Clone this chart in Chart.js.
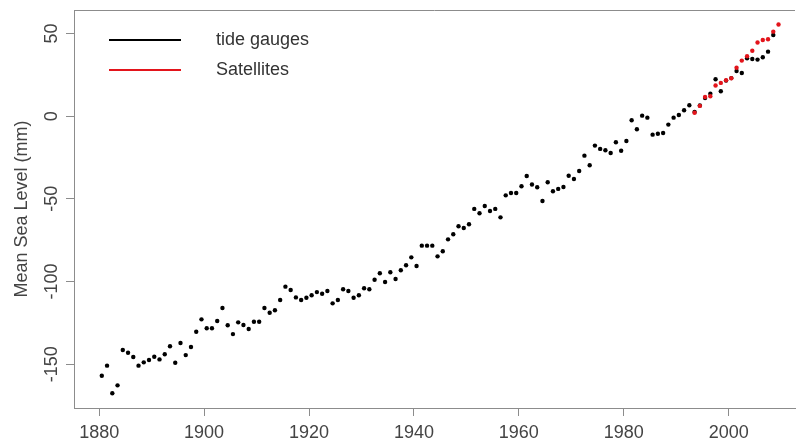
<!DOCTYPE html>
<html>
<head>
<meta charset="utf-8">
<script src="https://cdn.jsdelivr.net/npm/chart.js@4.4.0/dist/chart.umd.min.js"></script>
<style>
  html, body { margin: 0; padding: 0; background: #fff; }
  #chart { display: block; }
</style>
</head>
<body>
<canvas id="chart" width="799" height="439"></canvas>
<script>
// annual mean sea level (mm), one value per year, plotted at mid-year
const tideFirstYear = 1880;
const tideGauges = [
  -157.0, -150.9, -167.6, -162.8, -141.4, -143.1, -145.7, -150.9, -148.9, -147.5, // 1880s
  -145.5, -147.1, -144.0, -139.2, -149.1, -137.2, -144.5, -139.6, -130.4, -122.9, // 1890s
  -128.3, -128.3, -123.9, -116.0, -126.5, -131.8, -124.7, -126.3, -128.7, -124.3, // 1900s
  -124.3, -116.0, -118.9, -117.4, -111.2, -103.1, -105.1, -109.6, -111.2, -109.8, // 1910s
  -108.3, -106.4, -107.4, -105.7, -113.2, -111.2, -104.7, -105.7, -109.8, -108.3, // 1920s
  -104.1, -104.7, -98.9, -95.0, -100.3, -94.4, -98.5, -93.2, -90.2, -85.4,        // 1930s
  -90.6, -78.3, -78.3, -78.3, -84.8, -81.7, -74.5, -71.4, -66.6, -67.6,           // 1940s
  -65.4, -56.1, -58.7, -54.3, -57.4, -56.1, -61.2, -47.9, -46.5, -46.5,           // 1950s
  -42.4, -36.2, -41.3, -43.0, -51.3, -40.0, -45.4, -44.0, -42.8, -36.0,           // 1960s
  -38.0, -33.2, -23.9, -29.7, -17.8, -19.8, -20.6, -22.3, -15.8, -20.9,           // 1970s
  -15.0, -2.5, -7.9, 0.3, -0.9, -11.2, -10.6, -10.2, -5.1, -0.9,                  // 1980s
  0.7, 3.6, 6.6, 2.5, 6.5, 11.0, 13.6, 22.3, 15.1, 21.5,                          // 1990s
  23.0, 27.3, 26.1, 35.0, 34.6, 34.2, 35.6, 39.0, 49.1                            // 2000-2008
];

const satFirstYear = 1993;
const satellites = [
  2.1, 6.2, 11.6, 12.0, 18.5, 20.1, 21.7, 22.9, 29.3,
  33.6, 36.2, 39.6, 44.5, 46.1, 46.5, 51.1, 55.4
];

const xTicks = [1880, 1900, 1920, 1940, 1960, 1980, 2000];
const yTicks = [-150, -100, -50, 0, 50];

const toPoints = (first, values) => values.map((v, i) => ({ x: first + i + 0.5, y: v }));

const axisColor = '#8c8c8c';
const textColor = '#444';

Chart.defaults.font.family = "'Liberation Sans', Arial, sans-serif";
Chart.defaults.font.size = 18;
Chart.defaults.color = textColor;

// top edge of the R plot box (right edge is cut off in the original)
const boxPlugin = {
  id: 'box',
  beforeDatasetsDraw(chart) {
    const { ctx, chartArea: a } = chart;
    ctx.save();
    ctx.strokeStyle = axisColor;
    ctx.lineWidth = 1;
    ctx.beginPath();
    ctx.moveTo(a.left, a.top + 0.5);
    ctx.lineTo(a.right, a.top + 0.5);
    ctx.stroke();
    ctx.restore();
  }
};

// legend with long line keys, like R's legend(lty=1)
const lineLegend = {
  id: 'lineLegend',
  afterDraw(chart, args, opts) {
    const { ctx, chartArea: a } = chart;
    ctx.save();
    ctx.font = "18px 'Liberation Sans', Arial, sans-serif";
    ctx.textBaseline = 'middle';
    chart.data.datasets.forEach((ds, i) => {
      const y = a.top + opts.top + i * opts.spacing;
      ctx.strokeStyle = ds.backgroundColor;
      ctx.lineWidth = 2;
      ctx.beginPath();
      ctx.moveTo(a.left + opts.lineStart, y);
      ctx.lineTo(a.left + opts.lineEnd, y);
      ctx.stroke();
      ctx.fillStyle = '#333';
      ctx.fillText(ds.label, a.left + opts.textStart, y);
    });
    ctx.restore();
  }
};

new Chart(document.getElementById('chart'), {
  type: 'scatter',
  data: {
    datasets: [
      {
        label: 'tide gauges',
        data: toPoints(tideFirstYear, tideGauges),
        backgroundColor: '#000',
        pointRadius: 2.2,
        pointBorderWidth: 0,
        order: 1
      },
      {
        label: 'Satellites',
        data: toPoints(satFirstYear, satellites),
        backgroundColor: '#e3141b',
        pointRadius: 2.2,
        pointBorderWidth: 0,
        order: 0
      }
    ]
  },
  options: {
    responsive: false,
    animation: false,
    layout: { padding: { top: 10, right: 0, left: 0, bottom: 0 } },
    plugins: {
      legend: { display: false },
      tooltip: { enabled: false },
      lineLegend: { top: 30, spacing: 30, lineStart: 35, lineEnd: 107, textStart: 142 }
    },
    scales: {
      x: {
        type: 'linear',
        min: 1875.2,
        max: 2012.64,
        afterBuildTicks: axis => { axis.ticks = xTicks.map(v => ({ value: v })); },
        afterFit: scale => { scale.height = 31; },
        grid: { display: true, drawOnChartArea: false, drawTicks: true, tickLength: 8, color: axisColor },
        border: { display: true, color: axisColor },
        ticks: { padding: 6, maxRotation: 0, autoSkip: false, callback: v => String(v) }
      },
      y: {
        min: -176.5,
        max: 64.2,
        afterBuildTicks: axis => { axis.ticks = yTicks.map(v => ({ value: v })); },
        afterFit: scale => { scale.width = 74; },
        grid: { display: true, drawOnChartArea: false, drawTicks: true, tickLength: 8, color: axisColor },
        border: { display: true, color: axisColor },
        ticks: { padding: -4, minRotation: 90, maxRotation: 90, crossAlign: 'center', autoSkip: false, callback: v => String(v) },
        title: { display: true, text: 'Mean Sea Level (mm)', color: textColor, padding: { top: 11, bottom: 0 } }
      }
    }
  },
  plugins: [boxPlugin, lineLegend]
});
</script>
</body>
</html>
